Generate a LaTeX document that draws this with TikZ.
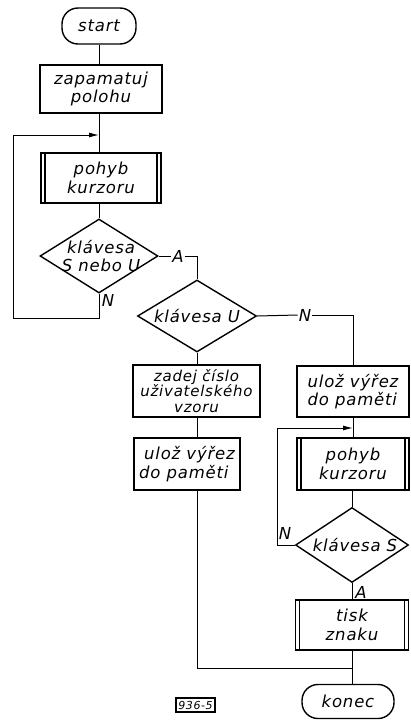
\documentclass[tikz,border=0pt]{standalone}
\usepackage{fontspec}
\setmainfont{DejaVu Sans}[LetterSpace=5]
\usetikzlibrary{shapes.geometric,arrows.meta}
\tikzset{
  x=1pt,y=-1pt,
  mainfont/.style={font=\fontsize{16.5}{18.5}\selectfont\itshape},
  txt/.style={mainfont, align=center, inner sep=0pt},
  boxn/.style={draw, line width=1.4pt, inner sep=0pt, mainfont, align=center},
  predef/.style={boxn, path picture={
      \draw[line width=1.1pt] ([xshift=4pt]path picture bounding box.north west) -- ([xshift=4pt]path picture bounding box.south west);
      \draw[line width=1.1pt] ([xshift=-4pt]path picture bounding box.north east) -- ([xshift=-4pt]path picture bounding box.south east);}},
  termn/.style={boxn, rounded corners=16pt},
  dia/.style={diamond, draw, line width=1.4pt, inner sep=0pt},
  conn/.style={line width=1pt},
  tip/.style={-{Latex[length=10pt,width=5pt]}},
  lab/.style={mainfont, inner sep=1pt}
}
\begin{document}
\begin{tikzpicture}
\useasboundingbox[fill=white] (0,0) rectangle (410,720);
% left column
\node[termn, minimum width=74, minimum height=36] (start) at (99,26) {start};
\node[boxn, minimum width=122, minimum height=48] (zap) at (101,89) {zapamatuj\\polohu};
\node[predef, minimum width=120, minimum height=50] (p1) at (101,178) {pohyb\\kurzoru};
\node[dia, minimum width=118, minimum height=74] (d1) at (99,256) {};
\node[txt] (d1t) at (101,256) {klávesa\\S nebo U};
\node[lab] (A1) at (178,256) {A};
\node[lab] (N1) at (108,300) {N};
% middle
\node[dia, minimum width=119, minimum height=72] (d2) at (197,316) {};
\node[txt] (d2t) at (197,316) {klávesa U};
\node[lab] (N2) at (305,315) {N};
\node[boxn, minimum width=127, minimum height=52, font=\fontsize{15}{15.5}\selectfont\itshape] (zadej) at (196.5,391) {zadej číslo\\uživatelského\\vzoru};
\node[boxn, minimum width=106, minimum height=52, align=left] (ulozL) at (187,464) {\hspace{5pt}ulož výřez\\do paměti};
% right column
\node[boxn, minimum width=112, minimum height=51, align=left] (ulozR) at (353,391.5) {ulož výřez\\do paměti};
\node[predef, minimum width=112, minimum height=52] (p2) at (353,464) {pohyb\\kurzoru};
\node[dia, minimum width=113, minimum height=75] (d3) at (352,545) {};
\node[txt] (d3t) at (355,545) {klávesa S};
\node[lab] (N3) at (285,533) {N};
\node[lab] (A3) at (361,592) {A};
\node[predef, minimum width=113, minimum height=50] (tisk) at (352,625) {tisk\\znaku};
\node[termn, minimum width=92, minimum height=34] (konec) at (348,701.5) {konec};
\node[draw, line width=1.1pt, inner sep=1pt, minimum width=39, minimum height=14, font=\fontsize{11}{12}\selectfont\itshape] (fig) at (195.5,705) {936-5};
% coordinates
\coordinate (j1) at (99,135);
\coordinate (l1a) at (99,318);
\coordinate (l1b) at (13,318);
\coordinate (l1c) at (13,135);
\coordinate (j2) at (353,428);
\coordinate (l2a) at (277,545);
\coordinate (l2b) at (277,428);
\coordinate (j3) at (353,668);
\coordinate (l3) at (197,668);
% connectors
\draw[conn] (start.south) -- (start.south |- zap.north);
\draw[conn] (zap.south -| j1) -- (j1 |- p1.north);
\draw[conn] (p1.south -| d1.north) -- (d1.north);
\draw[conn] (d1.south) -- (l1a) -- (l1b) -- (l1c);
\draw[conn, tip] (l1c) -- (j1);
\draw[conn] (d1.east) -- (A1.west);
\draw[conn] (A1.east) -| (d2.north);
\draw[conn] (d2.east) -- (N2.west);
\draw[conn] (N2.east) -| (ulozR.north);
\draw[conn] (d2.south) -- (d2.south |- zadej.north);
\draw[conn] (zadej.south -| d2.south) -- (d2.south |- ulozL.north);
\draw[conn] (d2.south |- ulozL.south) -- (l3) -- (j3);
\draw[conn] (ulozR.south) -- (p2.north);
\draw[conn] (d3.west) -- (l2a) -- (l2b);
\draw[conn, tip] (l2b) -- (j2);
\draw[conn] (p2.south -| d3.north) -- (d3.north);
\draw[conn] (d3.south) -- (tisk.north);
\draw[conn] (tisk.south) -- (tisk.south |- konec.north);
\end{tikzpicture}
\end{document}
